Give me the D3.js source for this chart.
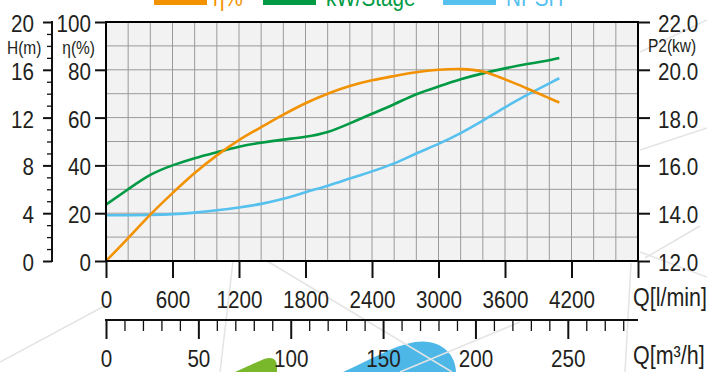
<!DOCTYPE html>
<html><head><meta charset="utf-8">
<script src="https://cdn.jsdelivr.net/npm/d3@7"></script>
<style>html,body{margin:0;padding:0;background:#fff;overflow:hidden}</style>
</head><body><svg id="c" width="707" height="372"></svg>
<script>
// ---- data ----
const flowLpm = [0, 200, 400, 600, 800, 1000, 1200, 1400, 1600, 1800, 2000, 2200, 2400, 2600, 2800, 3000, 3200, 3400, 3600, 3800, 4000, 4090];
const efficiencyPct = [0, 9.6, 19.4, 28.4, 36.8, 44.2, 50.6, 56.0, 61.2, 66.0, 70.0, 73.2, 75.6, 77.4, 79.0, 80.0, 80.3, 79.3, 76.0, 72.2, 68.1, 66.3];
const powerKw = [14.36, 15.0, 15.6, 16.0, 16.3, 16.55, 16.78, 16.95, 17.08, 17.2, 17.4, 17.76, 18.16, 18.56, 18.98, 19.3, 19.6, 19.85, 20.06, 20.24, 20.4, 20.49];
const npshM = [3.83, 3.83, 3.86, 3.92, 4.05, 4.24, 4.48, 4.78, 5.2, 5.75, 6.3, 6.9, 7.5, 8.17, 9.0, 9.8, 10.7, 11.74, 12.86, 13.9, 14.87, 15.29];
const qLpmTicks = [0, 600, 1200, 1800, 2400, 3000, 3600, 4200];
const qM3hTicks = [0, 50, 100, 150, 200, 250];
const headTicks = [0, 4, 8, 12, 16, 20];
const etaTicks = [0, 20, 40, 60, 80, 100];
const p2Ticks = [12, 14, 16, 18, 20, 22];
const legendLabels = ["η%", "kW/Stage", "NPSH"];
const seriesColors = ["#f39200", "#009a44", "#56c0ee"];

// ---- layout ----
const FONT = '"Liberation Sans",Arial,sans-serif';
const TXT = "#231f20";
const SQ = 0.86;
const L = 106, R = 638, T = 22, B = 261;
const svg = d3.select("#c").style("font-family", FONT);
svg.append("rect").attr("width", 707).attr("height", 372).attr("fill", "#fff");

const x = d3.scaleLinear().domain([0, 4800]).range([L, R]);
const xm = d3.scaleLinear().domain([0, 288]).range([L, R]);
const yEta = d3.scaleLinear().domain([0, 100]).range([B, T]);
const yH = d3.scaleLinear().domain([0, 20]).range([B, T]);
const yP = d3.scaleLinear().domain([12, 22]).range([B, T]);

const sq = (sel, xx, yy) => sel.attr("x", null).attr("y", null).attr("dy", null)
  .attr("transform", `translate(${xx},${yy}) scale(${SQ},1)`);

// watermark decoration (logo shapes + faint lines)
const deco = svg.append("g");
deco.append("path").attr("d", "M235,372 L264,359 Q277,355 277,367 L277,372 Z").attr("fill", "#78b82a");
deco.append("path").attr("d", "M343,372 C368,361 392,346 415,342 C440,338 456,354 456,372 Z").attr("fill", "#4db8e8");
const wm = [[0,362,110,303],[233,261,220,372],[267,261,452,372],[400,372,520,322],[631,263,625,372],[640,252,707,277],[640,52,707,20],[640,150,707,128],[645,258,700,226]];
deco.selectAll("line").data(wm).join("line")
  .attr("x1", d => d[0]).attr("y1", d => d[1]).attr("x2", d => d[2]).attr("y2", d => d[3])
  .attr("stroke", "#e4e4e4").attr("stroke-width", 1.5);

// plot background + grid
svg.append("rect").attr("x", L).attr("y", T).attr("width", R - L).attr("height", B - T).attr("fill", "#f2f2f2");
const grid = svg.append("g").attr("stroke", "#9a9a9a").attr("stroke-width", 1);
grid.selectAll(".gv").data(d3.range(200, 4800, 200)).join("line")
  .attr("x1", d => x(d)).attr("x2", d => x(d)).attr("y1", T).attr("y2", B);
grid.selectAll(".gh").data(d3.range(10, 100, 10)).join("line")
  .attr("x1", L).attr("x2", R).attr("y1", d => yEta(d)).attr("y2", d => yEta(d));

// curves
const pts = (vals, ys) => flowLpm.map((q, i) => [x(q), ys(vals[i])]);
const line = d3.line().curve(d3.curveNatural);
[[npshM, yH, 2], [powerKw, yP, 1], [efficiencyPct, yEta, 0]].forEach(([vals, ys, ci]) => {
  svg.append("path").attr("d", line(pts(vals, ys))).attr("fill", "none")
    .attr("stroke", seriesColors[ci]).attr("stroke-width", 2.6).attr("stroke-linecap", "butt");
});

// plot frame
svg.append("rect").attr("x", L).attr("y", T).attr("width", R - L).attr("height", B - T)
  .attr("fill", "none").attr("stroke", "#000").attr("stroke-width", 2);

function styleAxis(g, fs) {
  g.select(".domain").remove();
  g.selectAll("line").attr("stroke", "#111").attr("stroke-width", 2);
  g.selectAll("text").attr("fill", TXT).style("font-family", FONT).attr("font-size", fs);
}

// bottom Q l/min axis
const gQ = svg.append("g").attr("transform", `translate(0,${B})`)
  .call(d3.axisBottom(x).tickValues(qLpmTicks.concat([4800])).tickSize(17).tickSizeOuter(0)
    .tickFormat(d => qLpmTicks.includes(d) ? d : ""));
styleAxis(gQ, 24);
sq(gQ.selectAll("text"), 0, 46.5);

// bottom Q m3/h axis
const yM = 320;
svg.append("line").attr("x1", L - 1).attr("x2", R).attr("y1", yM).attr("y2", yM).attr("stroke", "#111").attr("stroke-width", 2);
const gM = svg.append("g").attr("transform", `translate(0,${yM})`)
  .call(d3.axisBottom(xm).tickValues(d3.range(0, 281, 10)).tickSize(11).tickSizeOuter(0)
    .tickFormat(d => qM3hTicks.includes(d) ? d : ""));
styleAxis(gM, 24);
gM.selectAll(".tick line").attr("y2", d => d % 50 === 0 ? 19 : 11).attr("stroke-width", d => d % 50 === 0 ? 2 : 1.3);
sq(gM.selectAll("text"), 0, 47);

// left H axis
const xHa = 52;
svg.append("line").attr("x1", xHa).attr("x2", xHa).attr("y1", T - 1).attr("y2", B + 1).attr("stroke", "#111").attr("stroke-width", 2);
const gH = svg.append("g").attr("transform", `translate(${xHa},0)`)
  .call(d3.axisLeft(yH).tickValues(d3.range(0, 21, 1)).tickSize(5).tickSizeOuter(0)
    .tickFormat(d => headTicks.includes(d) ? d : ""));
styleAxis(gH, 24);
gH.selectAll(".tick line").attr("x2", d => d % 4 === 0 ? -9 : -5).attr("stroke-width", d => d % 4 === 0 ? 2 : 1.3);
sq(gH.selectAll("text"), -18, 9.5);

// left eta axis
const gE = svg.append("g").attr("transform", `translate(${L},0)`)
  .call(d3.axisLeft(yEta).tickValues(etaTicks).tickSize(11).tickSizeOuter(0));
styleAxis(gE, 24);
sq(gE.selectAll("text"), -15, 9.5);

// right P2 axis
const gP = svg.append("g").attr("transform", `translate(${R},0)`)
  .call(d3.axisRight(yP).tickValues(p2Ticks).tickSize(12).tickSizeOuter(0).tickFormat(d3.format(".1f")));
styleAxis(gP, 24);
sq(gP.selectAll("text"), 20, 9.5);

// axis titles
const title = (t, xx, yy, fs, anchor) => sq(svg.append("text")
  .attr("font-size", fs).attr("fill", TXT).attr("text-anchor", anchor || "start").text(t), xx, yy);
title("H(m)", 7, 54, 18);
title("η(%)", 95, 54, 18, "end");
title("P2(kw)", 648, 52, 18);
title("Q[l/min]", 633, 306, 25);
title("Q[m³/h]", 633, 364, 25);

// legend (cut at top edge)
const legX = [154, 263, 443], legT = [213, 326, 506];
legendLabels.forEach((lab, i) => {
  svg.append("rect").attr("x", legX[i]).attr("y", -6).attr("width", 53).attr("height", 11).attr("fill", seriesColors[i]);
  sq(svg.append("text").attr("font-size", 24).attr("fill", seriesColors[i]).text(lab), legT[i], 6);
});
</script></body></html>
